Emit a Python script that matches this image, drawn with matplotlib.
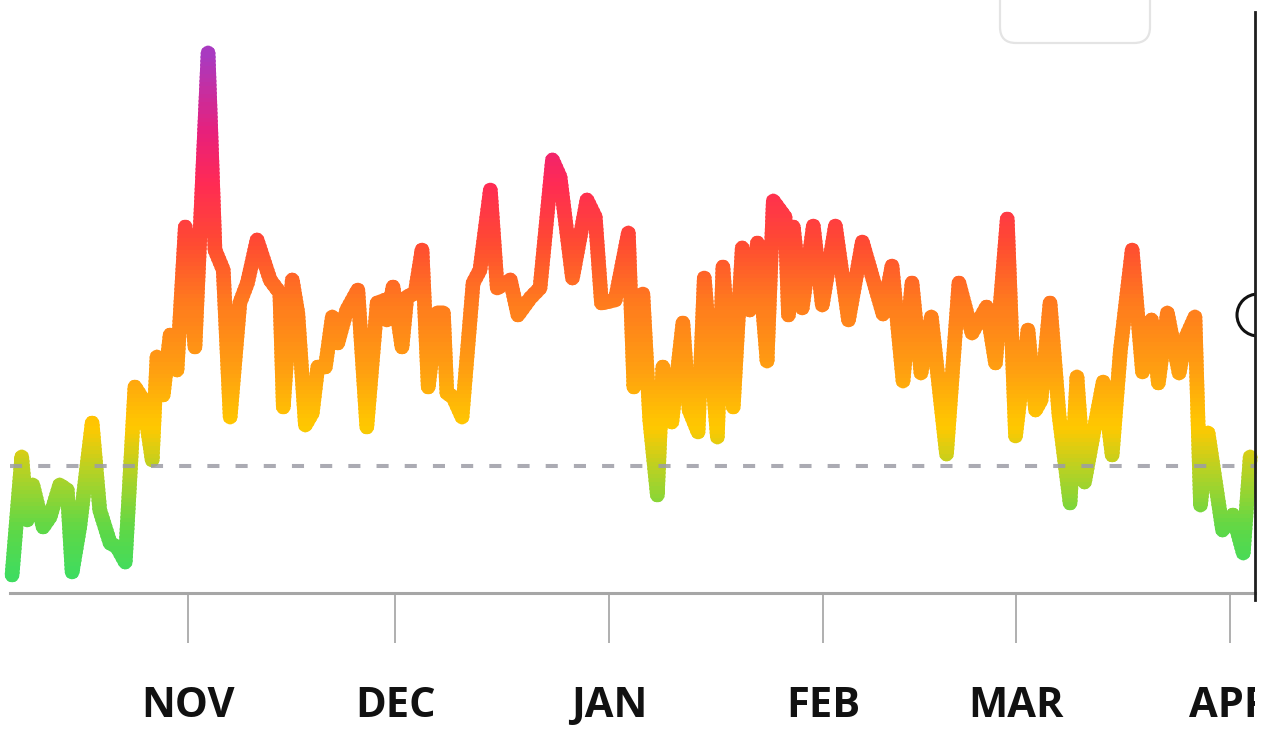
import numpy as np
import matplotlib.pyplot as plt
from matplotlib.colors import LinearSegmentedColormap
from matplotlib.patches import Rectangle, Circle, FancyBboxPatch
from matplotlib.transforms import Bbox, TransformedBbox

# day offsets relative to Nov 1, and the plotted level
days = [-25.5, -24.1, -23.3, -22.5, -21.0, -20.0, -18.6, -17.5, -16.8, -15.7,
        -13.9, -12.8, -11.3, -10.3, -9.1, -7.7, -6.5, -5.2, -4.5, -3.6,
        -2.6, -1.6, -0.4, 1.0, 2.9, 3.9, 5.1, 6.1, 7.5,
        8.6, 10.0, 11.9, 13.3, 13.8, 15.1, 15.9, 17.0, 18.0, 18.8,
        19.9, 20.9, 21.7, 23.0, 24.6, 25.9, 27.4, 28.6, 28.8, 29.7,
        31.0, 31.7, 32.9, 33.9, 34.8, 36.1, 37.0, 37.5, 38.4, 39.7,
        41.3, 42.3, 43.8, 44.8, 46.7, 47.8, 49.6, 51.0, 52.8, 53.9,
        55.7, 57.8, 59.0, 59.9, 61.9, 63.8, 64.6, 65.9, 66.9, 68.0,
        68.8, 70.1, 71.7, 72.6, 73.9, 74.8, 76.7, 77.5, 79.0, 80.3,
        81.4, 82.5, 83.9, 84.8, 86.5, 87.0, 87.7, 89.0, 90.6, 91.9,
        93.8, 95.7, 97.7, 100.7, 102.0, 103.6, 104.9, 106.2, 107.7, 109.9,
        111.7, 113.6, 115.7, 117.0, 118.7, 119.9, 121.7, 122.8, 123.6, 124.9,
        126.2, 127.8, 128.8, 129.9, 131.2, 132.6, 133.9, 135.1, 136.8, 138.3,
        139.6, 140.6, 141.9, 143.6, 144.6, 145.9, 146.7, 147.8, 149.9, 151.4,
        152.9, 153.9]
level = [25, 143, 80, 115, 73, 83, 115, 110, 28, 73,
         177, 90, 57, 53, 38, 213, 200, 140, 243, 205,
         265, 230, 373, 253, 547, 350, 330, 183, 297,
         317, 360, 320, 307, 193, 320, 287, 175, 187, 233,
         233, 283, 257, 290, 310, 173, 297, 300, 280, 313,
         253, 303, 307, 350, 213, 287, 287, 207, 203, 183,
         317, 330, 410, 312, 320, 285, 302, 312, 440, 423,
         322, 400, 383, 297, 300, 367, 213, 306, 180, 105,
         233, 178, 277, 190, 168, 322, 163, 333, 193, 352,
         290, 357, 239, 399, 383, 285, 373, 292, 374, 295,
         374, 280, 358, 286, 334, 219, 317, 227, 283, 146,
         317, 267, 293, 237, 381, 164, 270, 190, 200, 297,
         185, 97, 223, 118, 167, 218, 145, 250, 350, 228,
         280, 217, 287, 227, 263, 283, 95, 167, 70, 85,
         47, 143]

month_days = [0, 30, 61, 92, 120, 151]
month_labels = ['NOV', 'DEC', 'JAN', 'FEB', 'MAR', 'APR']
baseline = 134

# colour of the line depends on its height
stop_levels = [25, 70, 130, 175, 230, 300, 360, 420, 470, 547]
stop_colors = ['#3fdc5f', '#5cd848', '#b5d225', '#ffc800', '#ffa010',
               '#ff7a1e', '#ff4a32', '#ff2a55', '#e8207a', '#a93ac0']

W, H = 1268, 731
fig = plt.figure(figsize=(W / 100, H / 100), dpi=100)
ax = fig.add_axes([10 / W, 1 - 593 / H, (1255 - 10) / W, 593 / H])
ax.set_xlim(-25.8, 154.6)
ax.set_ylim(7, 600)

lo, hi = stop_levels[0], stop_levels[-1]
cmap = LinearSegmentedColormap.from_list(
    'heat', [((l - lo) / (hi - lo), c) for l, c in zip(stop_levels, stop_colors)])

# draw the same line in thin horizontal bands, each in its own colour
edges = np.linspace(0, 600, 151)
step = edges[1] - edges[0]
for y0, y1 in zip(edges[:-1], edges[1:]):
    c = cmap(np.clip(((y0 + y1) / 2 - lo) / (hi - lo), 0, 1))
    ln, = ax.plot(days, level, color=c, lw=10.5,
                  solid_joinstyle='round', solid_capstyle='round')
    ln.set_clip_path(Rectangle((-100, y0 - step / 2), 400, y1 - y0 + step / 2,
                               transform=ax.transData))

ax.axhline(baseline, color='#9c9ca6', lw=2.9, dashes=(3, 4), alpha=0.85, zorder=5)

for s in ['top', 'left', 'right']:
    ax.spines[s].set_visible(False)
ax.spines['bottom'].set_color('#a6a6a6')
ax.spines['bottom'].set_linewidth(2.2)
ax.set_yticks([])
ax.set_xticks(month_days, month_labels)
ax.tick_params(axis='x', direction='out', length=36, width=1.1, color='#9a9a9a', pad=31)
clip = TransformedBbox(Bbox([[0, 0], [1255 / W, 1]]), fig.transFigure)
for t in ax.get_xticklabels():
    t.set_fontfamily('Open Sans')
    t.set_fontweight('bold')
    t.set_fontsize(30)
    t.set_color('#111111')
    t.set_clip_box(clip)
    t.set_clip_on(True)

# screen furniture: cursor line, handle and the button box at the top
over = fig.add_axes([0, 0, 1, 1])
over.set_xlim(0, W)
over.set_ylim(H, 0)
over.axis('off')
over.plot([1255, 1255], [12, 600], color='#1e1e1e', lw=2)
handle = Circle((1258, 315), 21, fc='white', ec='#111111', lw=2.2)
over.add_patch(handle)
handle.set_clip_path(Rectangle((0, 0), 1256, H, transform=over.transData))
over.add_patch(FancyBboxPatch((1000, -40), 150, 83,
                              boxstyle='round,pad=0,rounding_size=16',
                              ec='#e4e4e4', fc='white', lw=1.6))

fig.savefig('out.png', dpi=100)
